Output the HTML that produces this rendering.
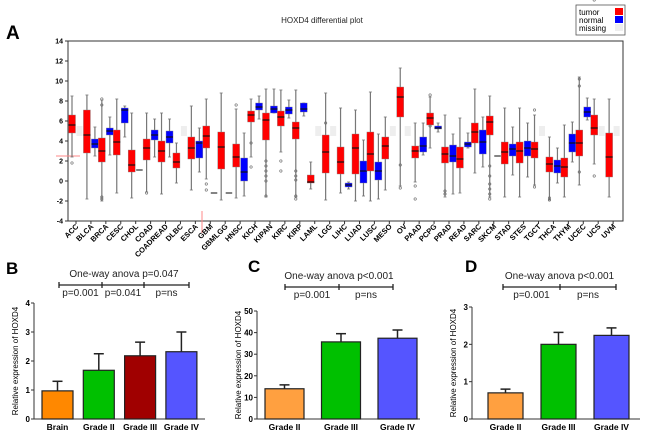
<!DOCTYPE html>
<html><head><meta charset="utf-8"><style>
body{margin:0;background:#fff;width:650px;height:438px;overflow:hidden;font-family:"Liberation Sans",Arial,sans-serif}
svg{display:block}
</style></head><body>
<svg id="s" width="650" height="438" xmlns="http://www.w3.org/2000/svg" font-family="Liberation Sans, Arial, sans-serif">
<text x="6" y="39" font-size="19" font-weight="bold">A</text>
<text x="322" y="23" font-size="8" text-anchor="middle" fill="#222">HOXD4 differential plot</text>
<g>
<rect x="576" y="5" width="49" height="30" fill="#fff" stroke="#555" stroke-width="0.8"/>
<text x="579" y="15" font-size="8">tumor</text>
<rect x="615" y="8" width="8" height="7" fill="#f00"/>
<text x="579" y="23" font-size="8">normal</text>
<rect x="615" y="16" width="8" height="7" fill="#00f"/>
<text x="579" y="31" font-size="8">missing</text>
<rect x="615" y="24" width="8" height="7" fill="#eee"/>
</g>
<rect x="68" y="41" width="555" height="180" fill="none" stroke="#333" stroke-width="1"/>
<line x1="56" y1="156" x2="80" y2="156" stroke="#f88" stroke-width="1"/>
<line x1="202" y1="211" x2="202" y2="233" stroke="#f88" stroke-width="1"/>
<g id="ga"></g>
<text x="6" y="274" font-size="17" font-weight="bold">B</text>
<text x="248" y="272" font-size="17" font-weight="bold">C</text>
<text x="465" y="272" font-size="17" font-weight="bold">D</text>
<g id="gb"></g>
</svg>
<script>
var cats=["ACC","BLCA","BRCA","CESC","CHOL","COAD","COADREAD","DLBC","ESCA","GBM","GBMLGG","HNSC","KICH","KIPAN","KIRC","KIRP","LAML","LGG","LIHC","LUAD","LUSC","MESO","OV","PAAD","PCPG","PRAD","READ","SARC","SKCM","STAD","STES","TGCT","THCA","THYM","UCEC","UCS","UVM"];
// tumor: [low, q1, median, q3, high]
var tumor=[[2.4,4.8,5.6,6.6,8.5],[-1.8,2.8,4.6,7.1,8.6],[-2,1.9,3.0,4.3,8.1],[-1.2,2.6,3.9,5.1,8.2],[-1.7,0.9,1.6,3.1,6.8],[-1.1,2.1,3.3,4.2,6.8],[-1.3,1.9,3.0,4.0,6.8],[-0.2,1.3,1.9,2.8,3.8],[-0.9,2.2,3.3,4.4,7.5],[0.2,3.3,4.5,5.5,8.2],[-1.9,1.2,3.4,4.9,8.8],[-1.7,1.4,2.4,3.7,7.2],[2.4,5.9,6.6,7.0,8.2],[-1.6,4.1,6.1,6.8,9.2],[2.9,5.5,6.4,7.0,9.1],[-1.6,4.2,5.3,5.9,9.1],[-0.8,-0.2,-0.1,0.6,1.9],[-1.9,0.8,2.9,4.6,8.8],[-1.2,0.7,1.9,3.4,7.3],[-2,0.7,3.3,4.7,7.1],[-2,1.0,2.7,4.9,8.9],[-0.9,2.2,3.5,4.4,6.4],[-0.5,6.4,8.4,9.4,11.3],[-0.1,2.3,3.0,3.5,5.8],[3.3,5.6,6.3,6.8,8.4],[-1.6,1.8,2.7,3.4,6.6],[-1.2,1.3,2.2,3.4,6.3],[0.8,3.8,4.9,5.8,9.2],[-1.6,4.6,5.9,6.5,8.5],[-1.6,1.7,2.9,3.9,7.3],[-1.6,1.8,3.0,3.9,7.3],[-0.4,2.3,3.2,3.9,6.6],[-1.9,0.9,1.7,2.4,4.4],[-1.6,0.4,1.4,2.3,5.6],[-0.4,2.5,3.8,5.1,10.4],[1.7,4.6,5.3,6.6,8.2],[-1.6,0.4,2.4,4.8,8.2]];
// normal: null = missing; single number = line only
var normal=[null,[2.5,3.3,3.7,4.2,5.4],[2.6,4.6,5.0,5.3,6.4],[4.4,5.8,7.1,7.3,7.5],1.1,[2.4,4.1,4.6,5.1,6.2],[2.4,3.8,4.4,5.0,6.2],null,[0.9,2.3,3.8,4.0,5.3],-1.2,-1.2,[-1.5,0,0.9,2.3,4.8],[6.2,7.1,7.4,7.8,8.5],[6.8,6.8,7.2,7.5,9.2],[6.3,6.7,7.1,7.4,8.1],[6.5,6.9,7.2,7.8,7.8],null,null,[-0.8,-0.6,-0.4,-0.2,-0.1],[-1.5,-0.2,1.0,2.0,4.1],[-1.8,0.1,1.0,1.9,4.7],null,null,[2.6,2.9,3.5,4.4,5.8],[4.9,5.2,5.3,5.5,5.8],[-1.3,1.9,2.5,3.6,4.7],[3.3,3.4,3.7,3.9,4.8],[1.4,2.7,3.9,5.1,6.4],2.5,[0.6,2.5,3.2,3.7,5.4],[0.4,2.5,3.3,4.0,5.8],null,[-0.2,0.8,1.5,2.1,3.3],[1.9,2.9,3.8,4.7,5.9],[6.1,6.4,6.9,7.4,8.3],null,null];
// tumor outliers: category index and value
var outCat=[0,2,2,2,2,5,9,9,11,12,12,13,13,13,13,13,13,14,14,15,15,15,15,15,17,22,22,23,23,24,24,25,25,28,28,28,28,28,28,31,31,32,32,34,34,34,35,35];
var outVal=[1.8,-1.6,-1.8,7.6,8.2,-1.2,-0.3,-0.9,7.6,3.8,1.4,1.5,1.0,0.5,0,-1.5,2.0,2.0,1.0,1.0,0.5,0.1,-1.5,-1.8,5.8,1.6,-0.7,-0.5,-1.8,5.5,8.6,-1.0,-1.3,1.5,0.5,-0.3,-0.8,-1.3,-1.8,7.1,-0.6,-1.7,-1.9,9.5,10.2,0.9,0.5];
var yTicksA=[14,12,10,8,6,4,2,0,-2,-4];

var NS="http://www.w3.org/2000/svg";
function mk(p,t,a,txt){var e=document.createElementNS(NS,t);for(var k in a)e.setAttribute(k,a[k]);if(txt!==undefined)e.textContent=txt;p.appendChild(e);return e;}
var ga=document.getElementById('ga');
function ya(v){return 221-(v+4)*10;}
function xa(i){return 76+i*14.92;}
yTicksA.forEach(function(t){
  mk(ga,'line',{x1:65,x2:68,y1:ya(t),y2:ya(t),stroke:'#333'});
  var tx=mk(ga,'text',{x:63,y:ya(t)+2.5,'font-size':7,'font-weight':'bold','text-anchor':'end'},t);
  
  
});
function box(x0,d,col,name){
  var g=mk(ga,'g',{});
  
  
  var cx=x0+3.5;
  mk(g,'line',{x1:cx,x2:cx,y1:ya(d[4]),y2:ya(d[0]),stroke:'#777','stroke-width':1.2});
  mk(g,'line',{x1:cx-1.5,x2:cx+1.5,y1:ya(d[4]),y2:ya(d[4]),stroke:'#777','stroke-width':0.8});
  mk(g,'line',{x1:cx-1.5,x2:cx+1.5,y1:ya(d[0]),y2:ya(d[0]),stroke:'#777','stroke-width':0.8});
  mk(g,'rect',{x:x0,y:ya(d[3]),width:7,height:Math.max(1,ya(d[1])-ya(d[3])),fill:col,stroke:'#888','stroke-width':0.4});
  mk(g,'line',{x1:x0,x2:x0+7,y1:ya(d[2]),y2:ya(d[2]),stroke:'#111','stroke-width':1.2});
}
cats.forEach(function(c,i){
  var cx=xa(i);
  mk(ga,'line',{x1:cx,x2:cx,y1:221,y2:224,stroke:'#333'});
  var lb=mk(ga,'text',{x:0,y:0,'font-size':7.5,'font-weight':'bold','text-anchor':'end',transform:'translate('+(cx+3)+',227) rotate(-45)'},c);
  
  
  box(cx-7.5,tumor[i],'#f00','tumor-box');
  var n=normal[i];
  if(n===null){
    var m=mk(ga,'rect',{x:cx+0.5,y:ya(5.5),width:6,height:10,fill:'#eee'});
    
    
  } else if(typeof n==='number'){
    var l=mk(ga,'line',{x1:cx+0.5,x2:cx+7,y1:ya(n),y2:ya(n),stroke:'#333','stroke-width':1.2});
    
    
  } else box(cx+0.5,n,'#00f','normal-box');
});
outCat.forEach(function(ci,k){
  var o=mk(ga,'circle',{cx:xa(ci)-4,cy:ya(outVal[k]),r:1.2,fill:'none',stroke:'#666','stroke-width':0.6});
  
  
});

// Bar panels
var bCats=["Brain","Grade II","Grade III","Grade IV"], bVals=[0.97,1.68,2.18,2.32], bErr=[1.3,2.25,2.65,3.0], bTicks=[0,1,2,3,4];
var cCats=["Grade II","Grade III","Grade IV"], cVals=[14,35.7,37.4], cErr=[15.8,39.5,41.2], cTicks=[0,10,20,30,40,50];
var dCats=["Grade II","Grade III","Grade IV"], dVals=[0.7,2.0,2.24], dErr=[0.8,2.32,2.44], dTicks=[0,1,2,3];
var gb=document.getElementById('gb');
function panel(o){
  var g=mk(gb,'g',{});
  
  
  var sc=(o.y0-o.yTop)/o.max;
  function y(v){return o.y0-v*sc;}
  mk(g,'line',{x1:o.ax,x2:o.ax,y1:o.yTop,y2:o.y0,stroke:'#333','stroke-width':1});
  mk(g,'line',{x1:o.ax,x2:o.axEnd,y1:o.y0,y2:o.y0,stroke:'#333','stroke-width':1});
  o.ticks.forEach(function(t){
    mk(g,'line',{x1:o.ax-3,x2:o.ax,y1:y(t),y2:y(t),stroke:'#333'});
    var tx=mk(g,'text',{x:o.ax-4,y:y(t)+3,'font-size':8,'font-weight':'bold','text-anchor':'end'},t);
    
    
  });
  var yt=mk(g,'text',{x:0,y:0,'font-size':8,'text-anchor':'middle',transform:'translate('+(o.ax-16)+','+((o.y0+o.yTop)/2)+') rotate(-90)'},'Relative expression of HOXD4');
  
  
  o.cats.forEach(function(c,i){
    var x=o.bx+i*o.sp, cx=x+o.bw/2;
    mk(g,'line',{x1:cx,x2:cx,y1:y(o.err[i]),y2:y(o.vals[i]),stroke:'#222','stroke-width':1.5});
    mk(g,'line',{x1:cx-5,x2:cx+5,y1:y(o.err[i]),y2:y(o.err[i]),stroke:'#222','stroke-width':1.5});
    var r=mk(g,'rect',{x:x,y:y(o.vals[i]),width:o.bw,height:o.y0-y(o.vals[i]),fill:o.cols[i],stroke:'#222','stroke-width':1.2});
    
    
    var lb=mk(g,'text',{x:cx,y:o.y0+11,'font-size':8.5,'font-weight':'bold','text-anchor':'middle'},c);
    
    
  });
  var tt=mk(g,'text',{x:(o.br[0]+o.br[o.br.length-1])/2,y:o.by-8,'font-size':10,'text-anchor':'middle',fill:'#222'},o.title);
  
  
  mk(g,'line',{x1:o.br[0],x2:o.br[o.br.length-1],y1:o.by,y2:o.by,stroke:'#222','stroke-width':1.3});
  o.br.forEach(function(bx){mk(g,'line',{x1:bx,x2:bx,y1:o.by-3,y2:o.by+3,stroke:'#222','stroke-width':1.3});});
  o.pl.forEach(function(p,i){
    var pt=mk(g,'text',{x:(o.br[i]+o.br[i+1])/2,y:o.by+11,'font-size':10,'text-anchor':'middle',fill:'#222'},p);
    
    
  });
}
panel({name:'panel-b-chart',cats:bCats,vals:bVals,err:bErr,ticks:bTicks,max:4,ax:34,axEnd:205,y0:419,yTop:303,bx:42,bw:31,sp:41.3,cols:['#ff8800','#00c000','#a00000','#5555ff'],by:285,br:[59,102,144,189],pl:['p=0.001','p=0.041','p=ns'],title:'One-way anova p=0.047'});
panel({name:'panel-c-chart',cats:cCats,vals:cVals,err:cErr,ticks:cTicks,max:50,ax:257,axEnd:420,y0:419,yTop:311,bx:265,bw:39,sp:56.5,cols:['#ffa040','#00c000','#5555ff'],by:287,br:[285,339,393],pl:['p=0.001','p=ns'],title:'One-way anova p<0.001'});
panel({name:'panel-d-chart',cats:dCats,vals:dVals,err:dErr,ticks:dTicks,max:3,ax:472,axEnd:640,y0:419,yTop:307,bx:488,bw:35,sp:53,cols:['#ffa040','#00c000','#5555ff'],by:287,br:[503,560,616],pl:['p=0.001','p=ns'],title:'One-way anova p<0.001'});
</script>
</body></html>
